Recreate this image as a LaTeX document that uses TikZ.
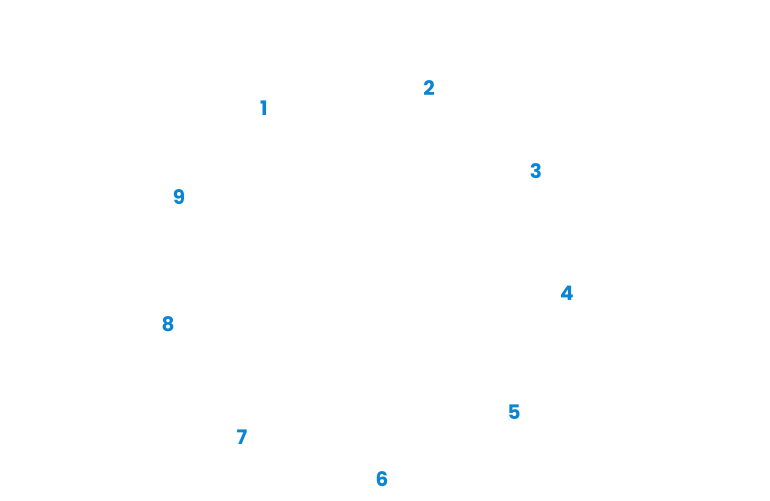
\documentclass[tikz,border=0pt]{standalone}
\usepackage{fontspec}
\setmainfont{Poppins}[BoldFont={Poppins Bold}]
\definecolor{numblue}{HTML}{0A85D4}
\begin{document}
\begin{tikzpicture}[x=1pt,y=-1pt,
  num/.style={text=numblue,font=\fontsize{20}{20}\selectfont\bfseries,inner sep=0pt}]
\useasboundingbox[fill=white] (0,0) rectangle (770,500);
\node[num] (n1) at (264,108) {1};
\node[num] (n2) at (429,88) {2};
\node[num] (n3) at (536,171) {3};
\node[num] (n4) at (567,293) {4};
\node[num] (n5) at (514,412) {5};
\node[num] (n6) at (382,479) {6};
\node[num] (n7) at (242,437) {7};
\node[num] (n8) at (168,324) {8};
\node[num] (n9) at (179,197) {9};
\end{tikzpicture}
\end{document}
